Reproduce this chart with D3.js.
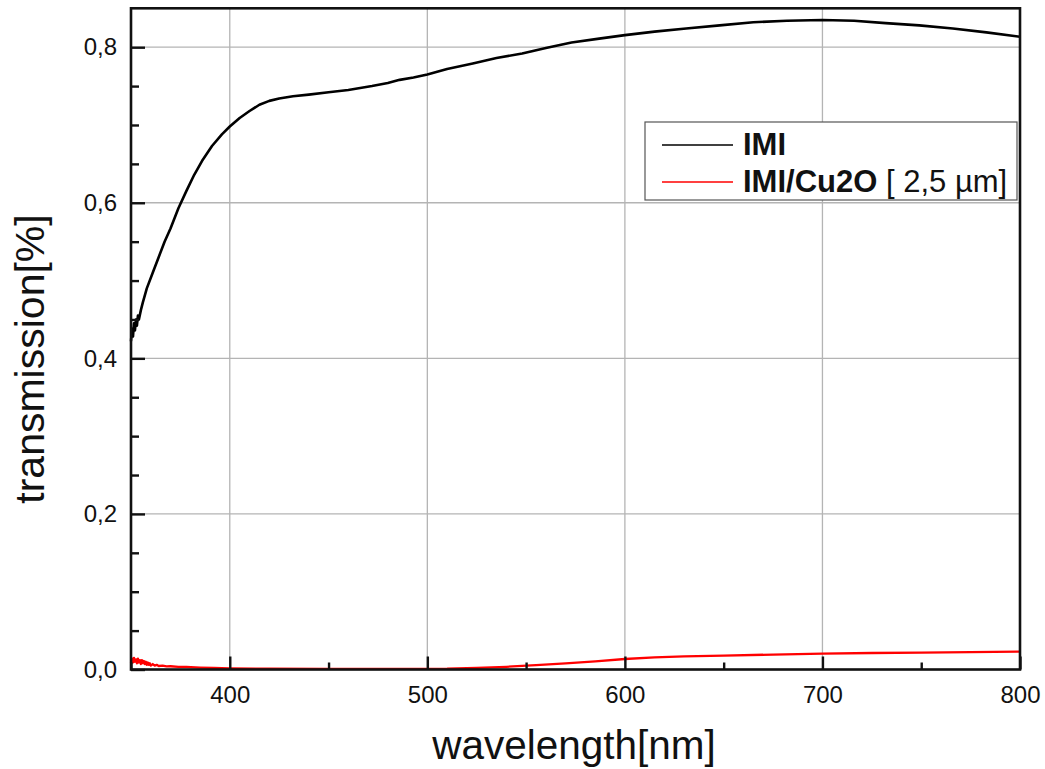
<!DOCTYPE html>
<html>
<head>
<meta charset="utf-8">
<script src="https://cdn.jsdelivr.net/npm/d3@7"></script>
<style>
  body { margin: 0; background: #fff; }
  text { font-family: "Liberation Sans", Arial, sans-serif; fill: #111; }
</style>
</head>
<body>
<script>
// wavelength [nm], transmission
const imi = [
  [350,0.422],[350.5,0.438],[351,0.428],[351.5,0.445],[352,0.436],[352.5,0.45],[353,0.442],[353.5,0.455],
  [354,0.45],[355,0.462],[356,0.472],[358,0.49],
  [361,0.51],[364,0.53],[367,0.55],[370,0.567],[374,0.593],[378,0.615],[382,0.636],[386,0.654],
  [391,0.673],[396,0.688],[400,0.698],[405,0.709],[410,0.718],[415,0.726],[420,0.731],[425,0.734],
  [432,0.737],[440,0.739],[450,0.742],[460,0.745],[472,0.75],[480,0.754],[486,0.758],[493,0.761],
  [500,0.765],[510,0.772],[523,0.779],[535,0.786],[548,0.792],[560,0.799],[573,0.806],[587,0.811],
  [600,0.8155],[615,0.82],[631,0.824],[648,0.828],[665,0.832],[682,0.834],[700,0.835],[716,0.834],
  [732,0.831],[749,0.828],[766,0.824],[783,0.819],[800,0.8134]
];
const imiCu2o = [
  [350,0.008],[350.5,0.014],[351,0.009],[351.5,0.015],[352,0.01],[352.5,0.013],[353,0.008],[353.5,0.014],
  [354,0.009],[354.5,0.012],[355,0.007],[355.5,0.012],[356,0.008],[356.5,0.011],[357,0.007],[357.5,0.01],
  [358,0.006],[358.5,0.009],[359,0.006],[359.5,0.008],[360,0.005],[361,0.007],[362,0.005],[363,0.006],
  [364,0.0045],[366,0.005],[368,0.004],[370,0.0042],[374,0.0035],[378,0.0033],[385,0.0025],[392,0.002],
  [400,0.0015],[420,0.001],[450,0.0008],[480,0.0008],[510,0.001],[525,0.002],[540,0.0035],[555,0.0055],
  [570,0.0078],[585,0.0105],[600,0.0135],[615,0.0155],[630,0.0168],[650,0.0178],[675,0.0192],
  [700,0.0205],[725,0.0212],[750,0.0218],[775,0.0224],[800,0.0229]
];
const xMajor = [400,500,600,700,800];
const xMinor = [350,450,550,650,750];
const yMajor = [0,0.2,0.4,0.6,0.8];
const yMinor = [0.05,0.1,0.15,0.25,0.3,0.35,0.45,0.5,0.55,0.65,0.7,0.75];
const seriesNames = ["IMI","IMI/Cu2O"];
const seriesColors = ["#000000","#ff0000"];

const width = 1045, height = 769;
const margin = {top: 8.3, right: 25, bottom: 99.5, left: 131};

const svg = d3.select("body").append("svg")
  .attr("width", width).attr("height", height);

const x = d3.scaleLinear().domain([350,800]).range([margin.left, width-margin.right]);
const y = d3.scaleLinear().domain([0,0.85]).range([height-margin.bottom, margin.top]);

const fmt = d => d3.format(".1f")(d).replace(".", ",");

// grid
svg.append("g").selectAll("line").data(xMajor.filter(d => d < 800)).join("line")
  .attr("x1", d => x(d)).attr("x2", d => x(d))
  .attr("y1", y(0)).attr("y2", y(0.85))
  .attr("stroke", "#b4b4b4").attr("stroke-width", 1.3);
svg.append("g").selectAll("line").data(yMajor.filter(d => d > 0)).join("line")
  .attr("x1", x(350)).attr("x2", x(800))
  .attr("y1", d => y(d)).attr("y2", d => y(d))
  .attr("stroke", "#b4b4b4").attr("stroke-width", 1.3);

// curves
const line = d3.line().x(d => x(d[0])).y(d => y(d[1]));
[imi, imiCu2o].forEach(function(s, i) {
  svg.append("path").datum(s)
    .attr("d", line)
    .attr("fill", "none")
    .attr("stroke", seriesColors[i])
    .attr("stroke-width", i === 0 ? 2.6 : 2.3)
    .attr("stroke-linejoin", "round");
});

// axes - ticks point inward like the original
const xAxis = svg.append("g").attr("transform", `translate(0,${y(0)})`)
  .call(d3.axisBottom(x).tickValues(xMajor).tickSize(-13).tickFormat(d3.format("d")).tickPadding(16));
xAxis.select(".domain").remove();
xAxis.selectAll("line").attr("stroke", "#111").attr("stroke-width", 2.4);
xAxis.selectAll("text").attr("font-size", 24).attr("fill", "#111");
svg.append("g").attr("transform", `translate(0,${y(0)})`)
  .call(d3.axisBottom(x).tickValues(xMinor).tickSize(-7).tickFormat(""))
  .call(g => g.select(".domain").remove())
  .selectAll("line").attr("stroke", "#111").attr("stroke-width", 2.4);

const yAxis = svg.append("g").attr("transform", `translate(${x(350)},0)`)
  .call(d3.axisLeft(y).tickValues(yMajor).tickSize(-14).tickFormat(fmt).tickPadding(14));
yAxis.select(".domain").remove();
yAxis.selectAll("line").attr("stroke", "#111").attr("stroke-width", 2.4);
yAxis.selectAll("text").attr("font-size", 24).attr("fill", "#111");
svg.append("g").attr("transform", `translate(${x(350)},0)`)
  .call(d3.axisLeft(y).tickValues(yMinor).tickSize(-8).tickFormat(""))
  .call(g => g.select(".domain").remove())
  .selectAll("line").attr("stroke", "#111").attr("stroke-width", 2.4);

// frame
svg.append("rect")
  .attr("x", x(350)).attr("y", y(0.85))
  .attr("width", x(800)-x(350)).attr("height", y(0)-y(0.85))
  .attr("fill", "none").attr("stroke", "#111").attr("stroke-width", 2.6);

// axis titles
svg.append("text")
  .attr("x", 574).attr("y", 759)
  .attr("text-anchor", "middle").attr("font-size", 40.5)
  .text("wavelength[nm]");
svg.append("text")
  .attr("transform", "translate(44,359) rotate(-90)")
  .attr("text-anchor", "middle").attr("font-size", 41)
  .text("transmission[%]");

// legend
const legend = svg.append("g");
legend.append("rect")
  .attr("x", 645).attr("y", 122).attr("width", 372).attr("height", 78)
  .attr("fill", "#fff").attr("stroke", "#555").attr("stroke-width", 1.2);
seriesNames.forEach(function(name, i) {
  const ly = 145 + i*37;
  legend.append("line")
    .attr("x1", 662).attr("x2", 733).attr("y1", ly).attr("y2", ly)
    .attr("stroke", seriesColors[i]).attr("stroke-width", 1.6);
  const t = legend.append("text")
    .attr("x", 743).attr("y", ly + 9.5).attr("font-size", 31);
  t.append("tspan").attr("font-weight", "bold").text(name);
  if (i === 1) t.append("tspan").text(" [ 2,5 µm]");
});
</script>
</body>
</html>
